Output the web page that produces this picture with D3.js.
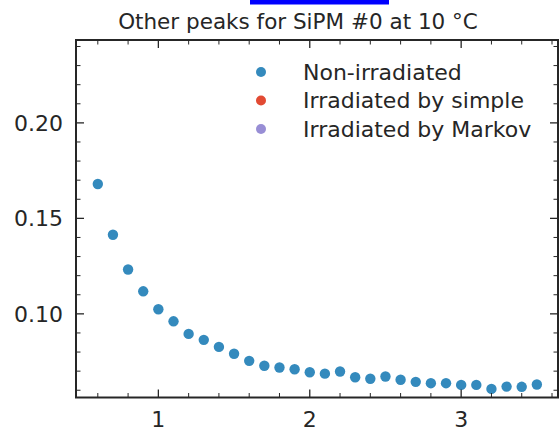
<!DOCTYPE html>
<html>
<head>
<meta charset="utf-8">
<script src="https://cdn.jsdelivr.net/npm/d3@7"></script>
<style>
  html, body { margin: 0; padding: 0; background: #fff; }
  svg { display: block; font-family: "DejaVu Sans", sans-serif; }
</style>
</head>
<body>
<svg id="chart" width="560" height="428"></svg>
<script>
// Overvoltage (V) and probability of other peaks, SiPM #0 at 10 °C
const overvoltage = [0.6, 0.7, 0.8, 0.9, 1.0, 1.1, 1.2, 1.3, 1.4, 1.5,
                     1.6, 1.7, 1.8, 1.9, 2.0, 2.1, 2.2, 2.3, 2.4, 2.5,
                     2.6, 2.7, 2.8, 2.9, 3.0, 3.1, 3.2, 3.3, 3.4, 3.5];
const nonIrradiated = [0.168, 0.1414, 0.1232, 0.1118, 0.1024, 0.0961, 0.0895, 0.0864, 0.0827, 0.0791,
                       0.0754, 0.0728, 0.0719, 0.0710, 0.0694, 0.0687, 0.0698, 0.0668, 0.0660, 0.0672,
                       0.0655, 0.0644, 0.0637, 0.0637, 0.0628, 0.0628, 0.0607, 0.0619, 0.0618, 0.0630];
const seriesNames = ["Non-irradiated", "Irradiated by simple", "Irradiated by Markov"];
const seriesColors = ["#348ABD", "#E24A33", "#988ED5"];
const xTicks = [1, 2, 3];
const yTicks = [0.10, 0.15, 0.20];
const titleText = "Other peaks for SiPM #0 at 10 °C";

const svg = d3.select("#chart");
const m = { left: 76, right: 558, top: 40, bottom: 397.5 };

const x = d3.scaleLinear().domain([0.456, 3.64]).range([m.left, m.left + (3.64 - 0.456) * 151.4]);
const y = d3.scaleLinear().domain([0.0562, 0.2434]).range([m.bottom, m.top]);

const ink = "#262626";
const fontSize = 22;

// header bar
svg.append("rect").attr("x", 250).attr("y", 0).attr("width", 139).attr("height", 4.5).attr("fill", "#0000ff");

// title
svg.append("text").attr("x", 298).attr("y", 29).attr("text-anchor", "middle")
  .attr("font-size", 21.5).attr("fill", ink).text(titleText);

const plot = svg.append("g");

// data points
plot.selectAll("circle.pt").data(overvoltage).join("circle")
  .attr("class", "pt")
  .attr("cx", (d) => x(d))
  .attr("cy", (d, i) => y(nonIrradiated[i]))
  .attr("r", 5.2)
  .attr("fill", seriesColors[0]);

// ticks pointing inward on all four sides
const xMinor = d3.range(0.6, 3.61, 0.2).map(v => +v.toFixed(2)).filter(v => !xTicks.includes(Math.round(v * 10) / 10));
const yMinor = d3.range(0.06, 0.241, 0.01).map(v => +v.toFixed(3)).filter(v => !yTicks.some(t => Math.abs(t - v) < 1e-6));

function tickSet(vals, len, w) {
  vals.forEach(v => {
    const xv = x(v);
    if (xv < m.left || xv > m.right) return;
    plot.append("line").attr("x1", xv).attr("x2", xv).attr("y1", m.bottom).attr("y2", m.bottom - len)
      .attr("stroke", ink).attr("stroke-width", w);
    plot.append("line").attr("x1", xv).attr("x2", xv).attr("y1", m.top).attr("y2", m.top + len)
      .attr("stroke", ink).attr("stroke-width", w);
  });
}
function tickSetY(vals, len, w) {
  vals.forEach(v => {
    const yv = y(v);
    plot.append("line").attr("x1", m.left).attr("x2", m.left + len).attr("y1", yv).attr("y2", yv)
      .attr("stroke", ink).attr("stroke-width", w);
    plot.append("line").attr("x1", m.right).attr("x2", m.right - len).attr("y1", yv).attr("y2", yv)
      .attr("stroke", ink).attr("stroke-width", w);
  });
}
tickSet(xTicks, 8, 1.3);
tickSet(xMinor, 4.5, 1);
tickSetY(yTicks, 8, 1.3);
tickSetY(yMinor, 4.5, 1);

// frame
plot.append("rect").attr("x", m.left).attr("y", m.top)
  .attr("width", m.right - m.left).attr("height", m.bottom - m.top)
  .attr("fill", "none").attr("stroke", ink).attr("stroke-width", 2);

// tick labels
svg.selectAll("text.xl").data(xTicks).join("text").attr("class", "xl")
  .attr("x", d => x(d)).attr("y", 426.5).attr("text-anchor", "middle")
  .attr("font-size", fontSize).attr("fill", ink).text(d => d);
svg.selectAll("text.yl").data(yTicks).join("text").attr("class", "yl")
  .attr("x", 63).attr("y", d => y(d)).attr("dy", "0.36em").attr("text-anchor", "end")
  .attr("font-size", fontSize).attr("fill", ink).text(d => d.toFixed(2));

// legend
const lg = svg.append("g");
seriesNames.forEach((name, i) => {
  const yy = 72 + i * 28.5;
  lg.append("circle").attr("cx", 261).attr("cy", yy).attr("r", 5).attr("fill", seriesColors[i]);
  lg.append("text").attr("x", 303).attr("y", yy).attr("dy", "0.36em")
    .attr("font-size", fontSize).attr("fill", ink).text(name);
});
</script>
</body>
</html>
